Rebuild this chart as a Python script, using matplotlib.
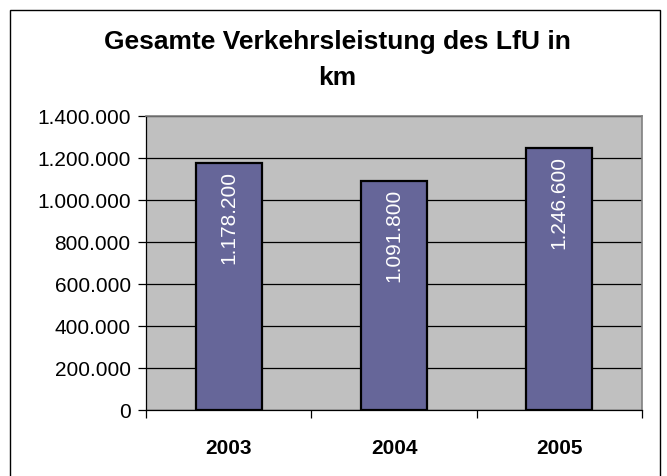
import matplotlib
matplotlib.use("Agg")
import matplotlib.pyplot as plt
from matplotlib.patches import Rectangle
from matplotlib.ticker import FuncFormatter

years = ["2003", "2004", "2005"]
values = [1178200, 1091800, 1246600]
title = "Gesamte Verkehrsleistung des LfU in\nkm"

plt.rcParams['font.family'] = ['Liberation Sans', 'DejaVu Sans']

fig = plt.figure(figsize=(6.67, 4.77), dpi=100)
fig.patch.set_facecolor('white')

# outer frame
fig.patches.append(Rectangle((10/667, -0.05), (660-10)/667, 1.05 - 11/477,
                             transform=fig.transFigure, fill=False,
                             edgecolor='black', linewidth=1.0, zorder=0))

ax = fig.add_axes([146/667, 1-411/477, (642-146)/667, (411-117)/477])
ax.set_facecolor('#C0C0C0')

fmt = lambda v: f"{int(round(v)):,}".replace(",", ".")

x = list(range(len(years)))
bars = ax.bar(x, values, width=0.4, color='#666699', edgecolor='black',
              linewidth=1.6, zorder=3)
for xi, v in zip(x, values):
    ax.annotate(fmt(v), (xi, v), xytext=(0, -5), textcoords='offset points',
                rotation=90, ha='center', va='top', color='white',
                fontsize=15, zorder=4)

ax.set_ylim(0, 1400000)
ax.set_yticks(range(0, 1400001, 200000))
ax.yaxis.set_major_formatter(FuncFormatter(lambda v, p: fmt(v)))
ax.yaxis.grid(True, color='black', linewidth=0.9, zorder=1)
ax.set_axisbelow(True)

ax.set_xlim(-0.5, len(years) - 0.5)
ax.set_xticks([i - 0.5 for i in range(len(years) + 1)])
ax.set_xticklabels([])
ax.set_xticks(x, minor=True)
ax.set_xticklabels(years, minor=True, fontsize=15, fontweight='bold')
ax.tick_params(axis='x', which='minor', length=0, pad=20)
ax.tick_params(axis='x', which='major', length=6, width=0.9, direction='out')
ax.tick_params(axis='y', length=6, width=0.9, direction='out', labelsize=15, pad=5)

for s in ['top', 'right']:
    ax.spines[s].set_color('#808080')
    ax.spines[s].set_linewidth(1.2)
for s in ['left', 'bottom']:
    ax.spines[s].set_color('black')
    ax.spines[s].set_linewidth(0.9)

fig.text(337/667, 1-60/477, title, ha='center', va='center', fontsize=19,
         fontweight='bold', linespacing=1.6)

fig.savefig('out.png', dpi=100)
